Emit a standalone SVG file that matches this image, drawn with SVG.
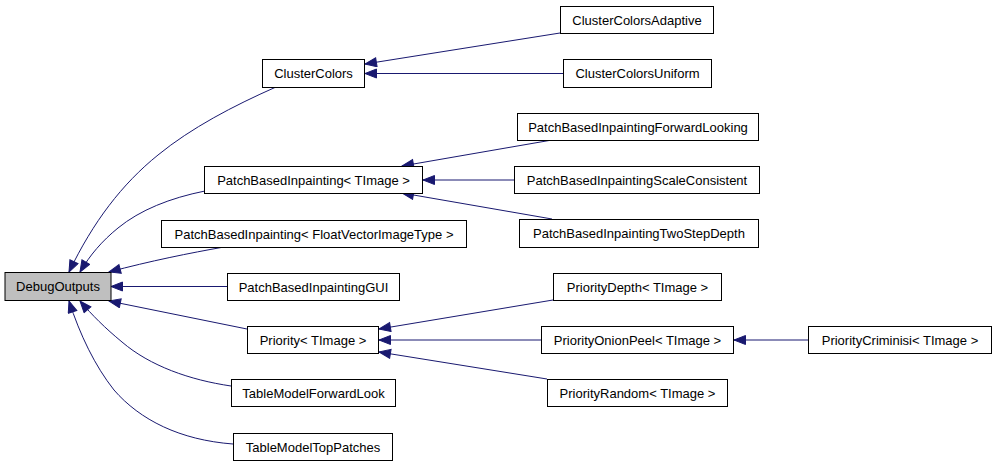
<svg xmlns="http://www.w3.org/2000/svg" width="997" height="467" viewBox="0 0 997 467">
<style>
.n rect{fill:#ffffff;stroke:#000000;stroke-width:1}
.n text{font-family:"Liberation Sans",Arial,sans-serif;font-size:13px;fill:#000000;text-anchor:middle}
#n_debug rect{fill:#bfbfbf}
.e path{fill:none;stroke:#191970;stroke-width:1;marker-end:url(#arr)}
</style>
<defs>
<marker id="arr" markerWidth="14" markerHeight="12" refX="12.5" refY="5" orient="auto" markerUnits="userSpaceOnUse">
<path d="M1,0.5 L12.5,5 L1,9.5 z" fill="#191970" stroke="#191970" stroke-width="1"/>
</marker>
</defs>
<rect x="0" y="0" width="997" height="467" fill="#ffffff"/>
<g id="edges" class="e">
<path d="M276,87 C233,106 191,128 158,155 C122,184 93,222 69,272"/>
<path d="M205,191 C170,198 140,210 118,228 C102,241 90,255 80,272"/>
<path d="M224,247 C190,253 150,261 109,272"/>
<path d="M227,286.5 L111,286.5"/>
<path d="M247,329 L109,301"/>
<path d="M231,386 C190,380 150,366 122,342 C105,328 92,315 80,301"/>
<path d="M233,444 C180,440 140,420 114,390 C95,366 80,335 69,301"/>
<path d="M560,33 L365,64"/>
<path d="M563,73.5 L365,73.5"/>
<path d="M552,140 L402,166"/>
<path d="M514,180 L423,180"/>
<path d="M552,219 L402,193"/>
<path d="M553,300 L379,329"/>
<path d="M542,340 L379,340"/>
<path d="M547,379 L379,352"/>
<path d="M808,340 L734,340"/>
</g>
<g id="n_debug" class="n"><rect x="5" y="272.5" width="106" height="28"/><text x="58" y="291">DebugOutputs</text></g>
<g id="n_cc" class="n"><rect x="262.5" y="59.5" width="102" height="28"/><text x="313.5" y="78">ClusterColors</text></g>
<g id="n_pbi" class="n"><rect x="204.5" y="166.5" width="218" height="27"/><text x="313.5" y="184.5">PatchBasedInpainting&lt; TImage &gt;</text></g>
<g id="n_pbif" class="n"><rect x="161.5" y="220.5" width="305" height="27"/><text x="314" y="238.5">PatchBasedInpainting&lt; FloatVectorImageType &gt;</text></g>
<g id="n_gui" class="n"><rect x="227.5" y="273.5" width="172" height="27"/><text x="313.5" y="291.5">PatchBasedInpaintingGUI</text></g>
<g id="n_pri" class="n"><rect x="247.5" y="326.5" width="131" height="27"/><text x="313" y="344.5">Priority&lt; TImage &gt;</text></g>
<g id="n_tmfl" class="n"><rect x="231.5" y="379.5" width="164" height="27"/><text x="313.5" y="397.5">TableModelForwardLook</text></g>
<g id="n_tmtp" class="n"><rect x="233.5" y="433.5" width="159" height="27"/><text x="313" y="451.5">TableModelTopPatches</text></g>
<g id="n_cca" class="n"><rect x="560.5" y="6.5" width="153" height="27"/><text x="637" y="24.5">ClusterColorsAdaptive</text></g>
<g id="n_ccu" class="n"><rect x="563.5" y="59.5" width="148" height="28"/><text x="637.5" y="78">ClusterColorsUniform</text></g>
<g id="n_pfl" class="n"><rect x="517.5" y="113.5" width="241" height="27"/><text x="638" y="131.5">PatchBasedInpaintingForwardLooking</text></g>
<g id="n_psc" class="n"><rect x="514.5" y="166.5" width="245" height="27"/><text x="637" y="184.5">PatchBasedInpaintingScaleConsistent</text></g>
<g id="n_ptd" class="n"><rect x="519.5" y="219.5" width="239" height="28"/><text x="639" y="238">PatchBasedInpaintingTwoStepDepth</text></g>
<g id="n_pd" class="n"><rect x="553.5" y="273.5" width="168" height="27"/><text x="637.5" y="291.5">PriorityDepth&lt; TImage &gt;</text></g>
<g id="n_pop" class="n"><rect x="541.5" y="326.5" width="192" height="27"/><text x="637.5" y="344.5">PriorityOnionPeel&lt; TImage &gt;</text></g>
<g id="n_pr" class="n"><rect x="547.5" y="379.5" width="180" height="27"/><text x="637.5" y="397.5">PriorityRandom&lt; TImage &gt;</text></g>
<g id="n_pc" class="n"><rect x="808.5" y="326.5" width="183" height="27"/><text x="900" y="344.5">PriorityCriminisi&lt; TImage &gt;</text></g>
</svg>
